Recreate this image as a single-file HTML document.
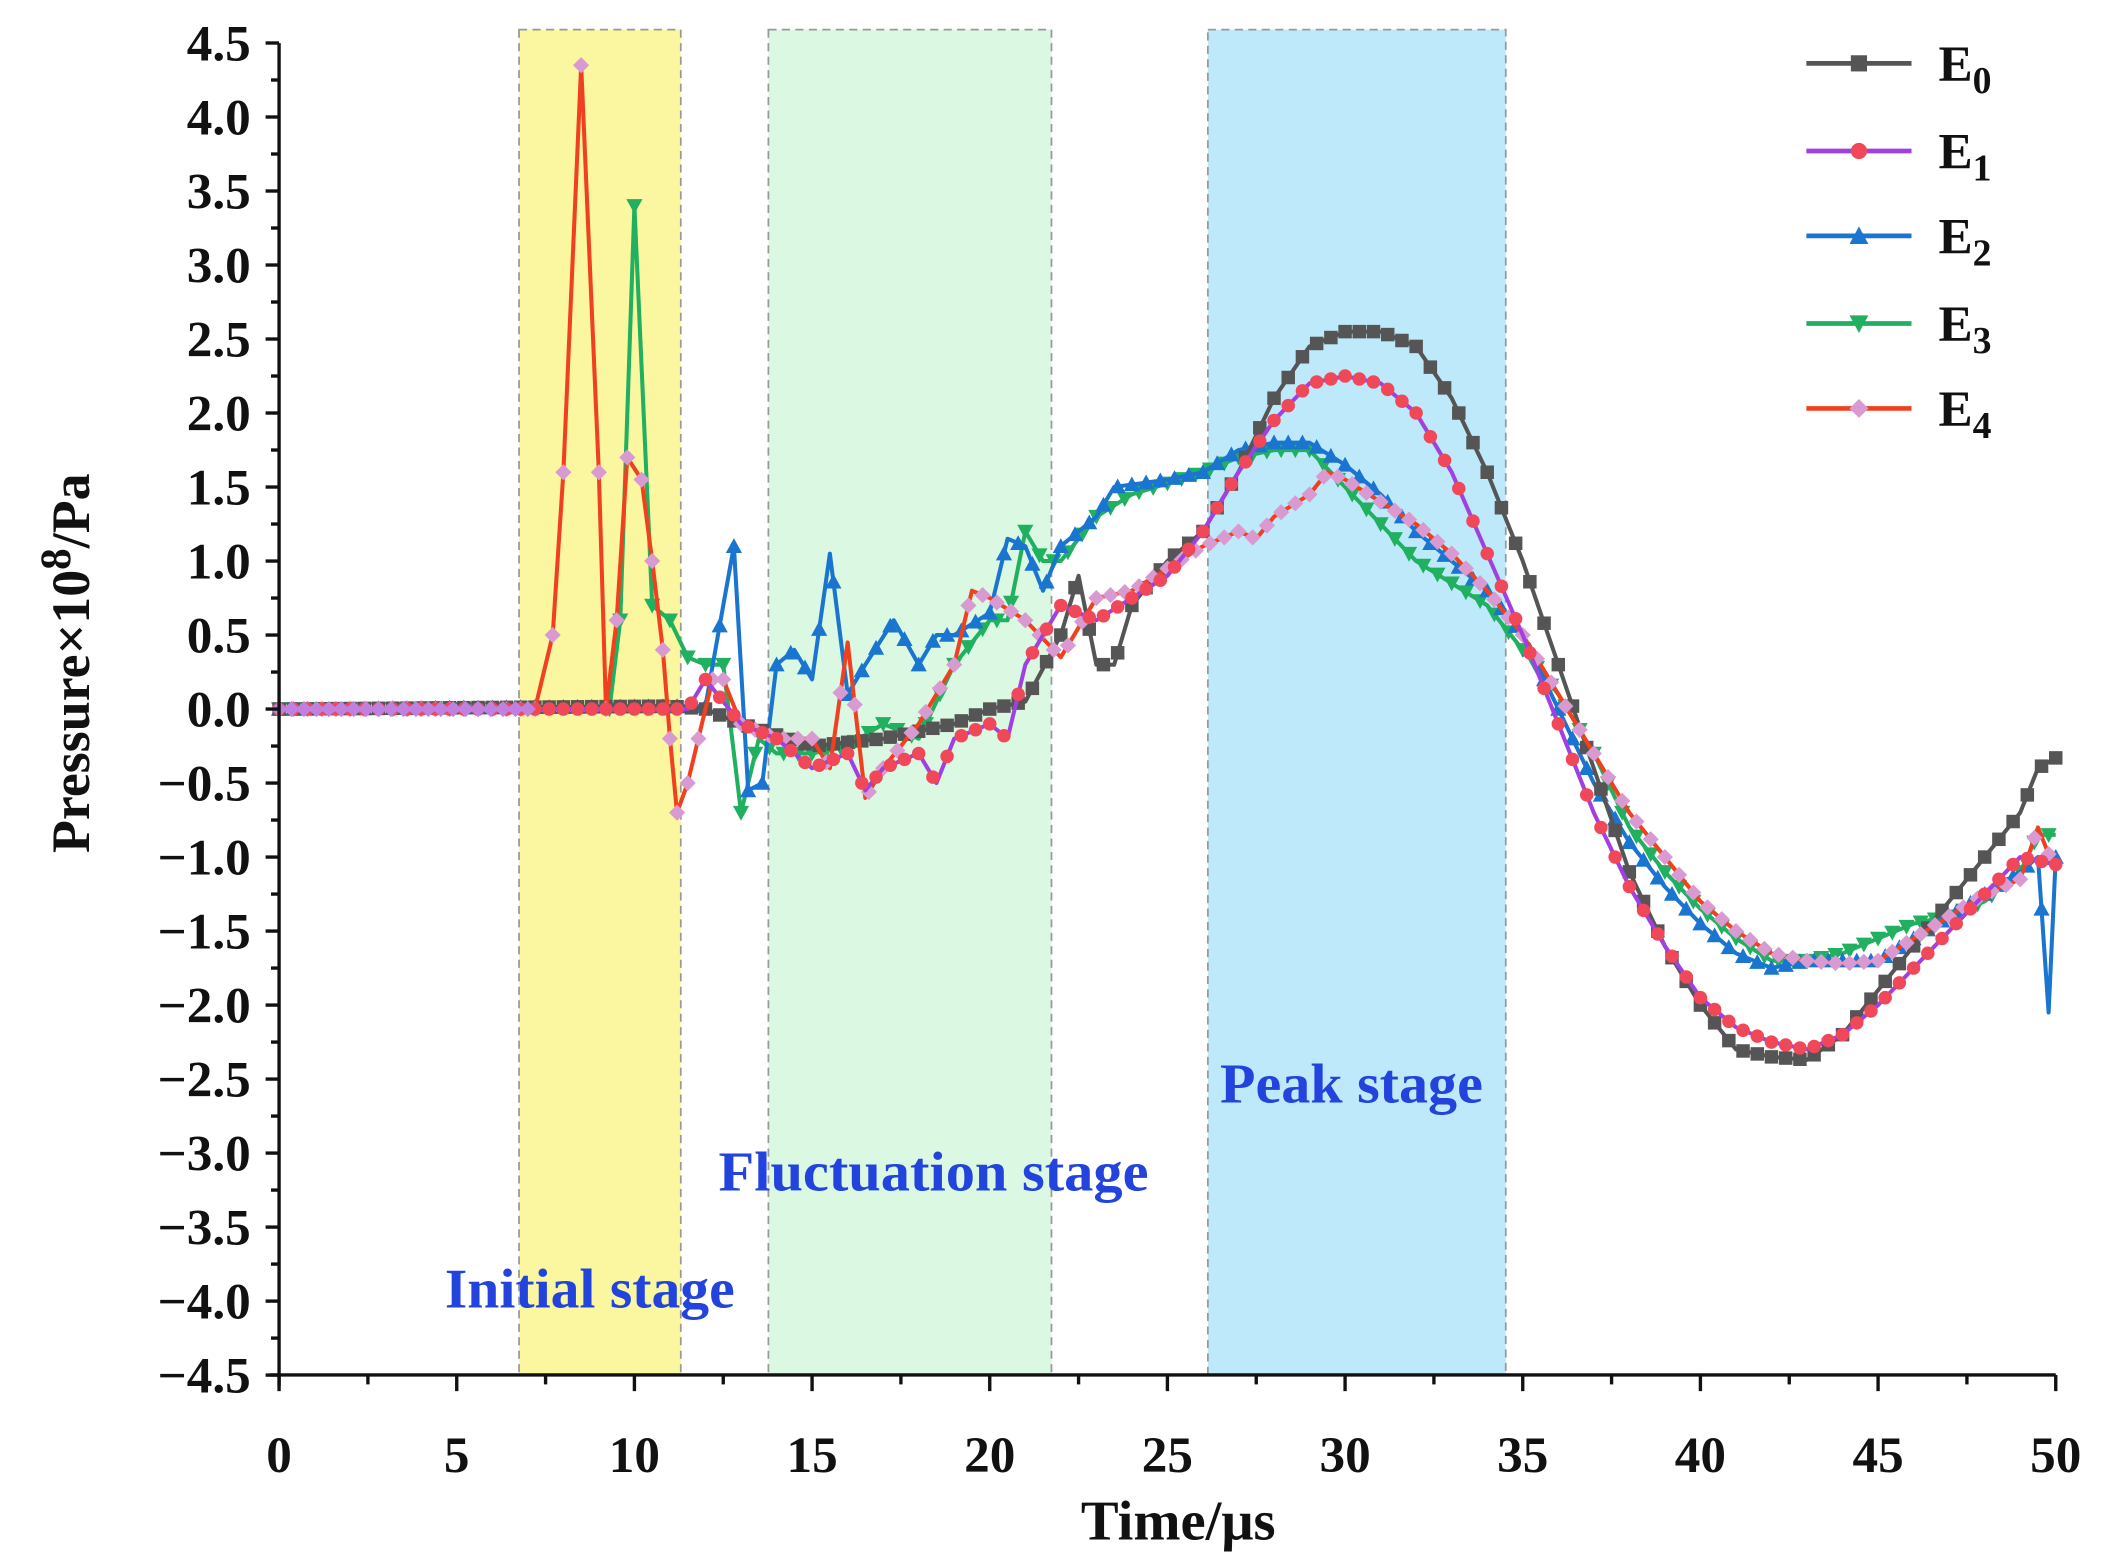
<!DOCTYPE html>
<html><head><meta charset="utf-8"><style>
html,body{margin:0;padding:0;background:#fff;}
svg{display:block;}
text{font-family:"Liberation Serif",serif;font-weight:bold;}
</style></head><body>
<svg id="s" width="2112" height="1568" viewBox="0 0 1566.7 1163.2" xmlns="http://www.w3.org/2000/svg">
<rect width="1566.7" height="1163.2" fill="#fff"/>
<g stroke="#999" stroke-dasharray="6,4" stroke-width="1.3">
<rect x="385" y="22" width="120" height="998" fill="#fbf7a0"/>
<rect x="570" y="22" width="210" height="998" fill="#dbf8e2"/>
<rect x="896" y="22" width="221" height="998" fill="#bde9fa"/>
</g>
<g id="plot"></g>
<g id="axes" stroke="#111" stroke-width="2.5" fill="none"></g>
<g id="labels" font-size="38" fill="#111"></g>
<text x="874" y="1142" font-size="42" text-anchor="middle" fill="#111">Time/μs</text>
<text transform="translate(66,492) rotate(-90)" font-size="40" text-anchor="middle" fill="#111">Pressure×10<tspan font-size="32" dy="-14">8</tspan><tspan dy="14">/Pa</tspan></text>
<g fill="#2244dd" font-size="42">
<text x="330" y="970" textLength="215" lengthAdjust="spacingAndGlyphs">Initial stage</text>
<text x="533" y="883" textLength="319" lengthAdjust="spacingAndGlyphs">Fluctuation stage</text>
<text x="905" y="818" textLength="195" lengthAdjust="spacingAndGlyphs">Peak stage</text>
</g>
<g id="legend"></g>
</svg>
<script>
var NS="http://www.w3.org/2000/svg";
function el(t,a,p){var e=document.createElementNS(NS,t);for(var k in a)e.setAttribute(k,a[k]);(p||document.getElementById('plot')).appendChild(e);return e;}
function X(t){return 207+t*26.36;}
function Y(v){return 526-v*109.8;}
var ax=document.getElementById('axes'),lb=document.getElementById('labels');
el('line',{x1:207,y1:32,x2:207,y2:1028},ax);
el('line',{x1:200,y1:1020,x2:1525,y2:1020},ax);
for(var i=0;i<=18;i++){var v=4.5-i*0.5,y=Y(v);el('line',{x1:197,y1:y,x2:207,y2:y},ax);
 if(i<18)el('line',{x1:201,y1:y+27.45,x2:207,y2:y+27.45},ax);
 var tx=el('text',{x:186,y:y+13,'text-anchor':'end'},lb);tx.textContent=(v<0?'\u2212':'')+Math.abs(v).toFixed(1);}
for(var i=0;i<=10;i++){var x=X(i*5);el('line',{x1:x,y1:1020,x2:x,y2:1032},ax);
 if(i<10)el('line',{x1:X(i*5+2.5),y1:1020,x2:X(i*5+2.5),y2:1027},ax);
 var tx=el('text',{x:x,y:1092,'text-anchor':'middle'},lb);tx.textContent=i*5;}
var S=[
{c:'#555',m:'#555',k:'sq',d:[[0,0],[11,0.02],[12,0],[13,-0.1],[15,-0.25],[17,-0.2],[19,-0.1],[20,0],[21,0.05],[22,0.5],[22.5,0.9],[23,0.3],[23.5,0.3],[24,0.7],[25,1.0],[26,1.2],[27,1.6],[28,2.1],[29,2.45],[30,2.55],[31,2.55],[32,2.45],[33,2.1],[34,1.6],[35,1.0],[36,0.3],[37,-0.4],[38,-1.1],[39,-1.6],[40,-2.0],[41,-2.3],[42,-2.35],[43,-2.37],[44,-2.2],[45,-1.9],[46,-1.6],[47,-1.3],[48,-1.0],[49,-0.7],[49.5,-0.4],[50,-0.33]]},
{c:'#a040e0',m:'#f04858',k:'ci',d:[[0,0],[11.5,0],[12,0.2],[13,-0.1],[14,-0.2],[15,-0.4],[16,-0.3],[16.5,-0.55],[17,-0.4],[18,-0.3],[18.5,-0.5],[19,-0.2],[20,-0.1],[20.5,-0.2],[21,0.3],[22,0.7],[23,0.6],[24,0.75],[25,0.9],[26,1.2],[27,1.6],[28,1.95],[29,2.2],[30,2.25],[31,2.2],[32,2.0],[33,1.6],[34,1.05],[35,0.5],[36,-0.1],[37,-0.7],[38,-1.2],[39,-1.6],[40,-1.95],[41,-2.15],[42,-2.25],[43,-2.3],[44,-2.2],[45,-2.0],[46,-1.75],[47,-1.5],[48,-1.25],[49,-1.0],[50,-1.05]]},
{c:'#1a75d0',m:'#1a75d0',k:'tu',d:[[0,0],[12,0.02],[12.5,0.7],[12.8,1.1],[13.2,-0.55],[13.6,-0.5],[14,0.3],[14.5,0.4],[15,0.2],[15.5,1.05],[16,0.1],[16.5,0.3],[17.3,0.6],[18,0.3],[18.5,0.5],[19,0.5],[20,0.65],[20.5,1.15],[21,1.1],[21.5,0.8],[22,1.1],[23,1.3],[23.5,1.5],[25,1.55],[26,1.6],[27,1.75],[28,1.8],[29,1.8],[30,1.65],[31,1.45],[32,1.2],[33,1.0],[34,0.8],[35,0.5],[36,0.0],[37,-0.5],[38,-0.9],[39,-1.2],[40,-1.45],[41,-1.65],[42,-1.75],[43,-1.7],[44,-1.7],[45,-1.7],[46,-1.55],[47,-1.4],[48,-1.25],[49,-1.1],[49.5,-1.0],[49.8,-2.05],[50,-1.0]]},
{c:'#20b060',m:'#20b060',k:'td',d:[[0,0],[9.3,0],[9.6,0.6],[10,3.4],[10.5,0.7],[11,0.6],[11.5,0.35],[12,0.3],[12.5,0.3],[13,-0.7],[13.5,-0.2],[14,-0.3],[15,-0.3],[16,-0.25],[17,-0.1],[18,-0.2],[19,0.3],[20,0.6],[20.5,0.6],[21,1.2],[21.5,1.0],[22,1.0],[23,1.3],[24,1.45],[26,1.6],[27,1.7],[28,1.75],[29,1.75],[30,1.5],[31,1.25],[32,1.0],[33,0.85],[34,0.7],[35,0.4],[36,0.1],[37,-0.3],[38,-0.8],[39,-1.1],[40,-1.35],[41,-1.55],[42,-1.7],[43,-1.7],[44,-1.65],[45,-1.55],[46,-1.45],[47,-1.4],[48,-1.3],[49,-1.1],[49.5,-0.85],[50,-0.85]]},
{c:'#f04020',m:'#d89ad0',k:'di',d:[[0,0],[7.2,0],[7.7,0.5],[8,1.6],[8.5,4.35],[9,1.6],[9.2,0],[9.5,0.6],[9.8,1.7],[10.2,1.55],[10.5,1.0],[10.8,0.4],[11,-0.2],[11.2,-0.7],[11.5,-0.5],[11.8,-0.2],[12.2,0.2],[12.5,0.2],[13,-0.1],[14,-0.2],[15,-0.2],[15.5,-0.4],[16,0.45],[16.5,-0.6],[17,-0.4],[18,-0.1],[19,0.3],[19.5,0.8],[20,0.75],[21,0.6],[22,0.35],[23,0.75],[24,0.8],[25,0.95],[26,1.1],[27,1.2],[27.5,1.15],[28,1.3],[29,1.45],[29.5,1.6],[30,1.55],[31,1.4],[32,1.25],[33,1.05],[34,0.8],[35,0.5],[36,0.1],[37,-0.3],[38,-0.7],[39,-1.0],[40,-1.3],[41,-1.5],[42,-1.65],[43,-1.7],[44,-1.72],[45,-1.7],[46,-1.55],[47,-1.4],[48,-1.25],[49,-1.15],[49.5,-0.8],[50,-1.1]]}
];
function interp(d,t){for(var i=1;i<d.length;i++){if(t<=d[i][0]){var a=d[i-1],b=d[i];return a[1]+(b[1]-a[1])*(t-a[0])/(b[0]-a[0]);}}return d[d.length-1][1];}
function marker(k,x,y,c,g,r){r=r||5;
 if(k=='sq')el('rect',{x:x-r,y:y-r,width:2*r,height:2*r,fill:c},g);
 else if(k=='ci')el('circle',{cx:x,cy:y,r:r,fill:c},g);
 else if(k=='tu')el('polygon',{points:(x-r-1)+','+(y+r)+' '+(x+r+1)+','+(y+r)+' '+x+','+(y-r-1),fill:c},g);
 else if(k=='td')el('polygon',{points:(x-r-1)+','+(y-r)+' '+(x+r+1)+','+(y-r)+' '+x+','+(y+r+1),fill:c},g);
 else el('polygon',{points:x+','+(y-r-1)+' '+(x+r+1)+','+y+' '+x+','+(y+r+1)+' '+(x-r-1)+','+y,fill:c},g);}
var order=[3,2,0,4,1];
order.forEach(function(i){var s=S[i];var pts=s.d.map(function(p){return X(p[0]).toFixed(1)+','+Y(p[1]).toFixed(1);}).join(' ');
 el('polyline',{points:pts,fill:'none',stroke:s.c,'stroke-width':3,'stroke-linejoin':'round'});
 if(i==4||i==3){s.d.forEach(function(p){if(p[0]>7&&p[0]<13)marker(s.k,X(p[0]),Y(p[1]),s.m);});
   for(var t=13;t<=50.001;t+=0.4)marker(s.k,X(t),Y(interp(s.d,t)),s.m);
   for(var t=0;t<=7;t+=0.4)marker(s.k,X(t),Y(0),s.m);}
 else for(var t=0;t<=50.001;t+=0.4){marker(s.k,X(t),Y(interp(s.d,t)),s.m);} });
el('line',{x1:X(0),y1:Y(0),x2:X(7),y2:Y(0),stroke:'#b070e0','stroke-width':4});
for(var t=0;t<=7;t+=0.35)marker('di',X(t),Y(0),'#c080e0');
var lg=document.getElementById('legend');
var ly=[47,112,175,240,303],nm=['0','1','2','3','4'];
S.forEach(function(s,i){el('line',{x1:1340,y1:ly[i],x2:1418,y2:ly[i],stroke:s.c,'stroke-width':3.5},lg);
 marker(s.k,1379,ly[i],s.m,lg,6);
 var tx=el('text',{x:1438,y:ly[i]+13,'font-size':38,fill:'#111'},lg);tx.textContent='E';
 var sb=el('tspan',{'font-size':28,dy:9},tx);sb.textContent=nm[i];});
</script>
</body></html>
